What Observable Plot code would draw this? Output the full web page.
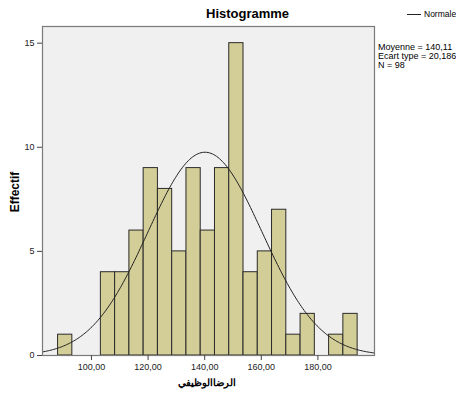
<!DOCTYPE html>
<html>
<head>
<meta charset="utf-8">
<script src="https://cdn.jsdelivr.net/npm/d3@7"></script>
<script src="https://cdn.jsdelivr.net/npm/@observablehq/plot@0.6"></script>
<style>
  body { margin: 0; background: #fff; font-family: "Liberation Sans", Arial, sans-serif; }
  #wrap { position: relative; width: 456px; height: 397px; }
  .ov { position: absolute; color: #000; white-space: nowrap; }
</style>
</head>
<body>
<div id="wrap"></div>
<script>
// Data
const binStart = 88.2;
const binWidth = 5.04;
const counts = [1, 0, 0, 4, 4, 6, 9, 8, 5, 9, 6, 9, 15, 4, 5, 7, 1, 2, 0, 1, 2];
const mean = 140.11;
const sd = 20.186;
const n = 98;
const xTicks = [100, 120, 140, 160, 180];
const yTicks = [0, 5, 10, 15];
const title = "Histogramme";
const xLabel = "الرضاالوظيفي";
const yLabel = "Effectif";
const legendLabel = "Normale";
const statsLines = ["Moyenne = 140,11", "Ecart type = 20,186", "N = 98"];

const bins = counts.map((c, i) => ({x1: binStart + i * binWidth, x2: binStart + (i + 1) * binWidth, y: c})).filter(d => d.y > 0);
const xDomain = [82.7, 200];
const curve = d3.range(xDomain[0], xDomain[1] + 0.01, 0.5).map(x => ({
  x, y: n * binWidth / (sd * Math.sqrt(2 * Math.PI)) * Math.exp(-0.5 * ((x - mean) / sd) ** 2)
}));

const fmt = d => d3.format(".2f")(d).replace(".", ",");

const chart = Plot.plot({
  width: 456,
  height: 397,
  marginLeft: 42,
  marginRight: 82,
  marginTop: 26,
  marginBottom: 42,
  style: {fontFamily: "'Liberation Sans', Arial, sans-serif", fontSize: "9px", color: "#222", background: "#fff"},
  x: {domain: xDomain},
  y: {domain: [0, 15.8]},
  marks: [
    Plot.frame({fill: "#f0f0f0", stroke: null}),
    Plot.rect(bins, {x1: "x1", x2: "x2", y1: 0, y2: "y", fill: "#d3ce97", stroke: "#2a2a2a", strokeWidth: 1}),
    Plot.line(curve, {x: "x", y: "y", stroke: "#222", strokeWidth: 1, clip: true}),
    Plot.frame({stroke: "#7a7a7a", strokeWidth: 1.2}),
    Plot.axisX({ticks: xTicks, tickFormat: fmt, tickSize: 5, tickPadding: 3, stroke: "#444", fill: "#222", label: null}),
    Plot.axisY({ticks: yTicks, tickFormat: d => String(d), tickSize: 5, tickPadding: 3, stroke: "#444", fill: "#222", label: null})
  ]
});

const wrap = document.getElementById("wrap");
wrap.appendChild(chart);

function ov(text, css) {
  const d = document.createElement("div");
  d.className = "ov";
  d.textContent = text;
  Object.assign(d.style, css);
  wrap.appendChild(d);
  return d;
}
ov(title, {left: "206px", top: "6px", fontSize: "13px", fontWeight: "bold"});
ov(xLabel, {left: "207px", top: "377px", fontSize: "10px", fontWeight: "bold", direction: "rtl", transform: "translateX(-50%)"});
ov(yLabel, {left: "15px", top: "192px", fontSize: "12px", fontWeight: "bold", transform: "translate(-50%,-50%) rotate(-90deg)"});
// legend
const lg = document.createElement("div");
lg.className = "ov";
Object.assign(lg.style, {left: "407px", top: "9px", fontSize: "8.5px", display: "flex", alignItems: "center"});
const sw = document.createElement("span");
Object.assign(sw.style, {display: "inline-block", width: "14px", height: "0", borderTop: "1px solid #222", marginRight: "3px"});
lg.appendChild(sw);
lg.appendChild(document.createTextNode(legendLabel));
wrap.appendChild(lg);
const st = ov("", {left: "378px", top: "43px", fontSize: "9px", lineHeight: "9px", whiteSpace: "pre"});
st.textContent = statsLines.join("\n");
</script>
</body>
</html>
